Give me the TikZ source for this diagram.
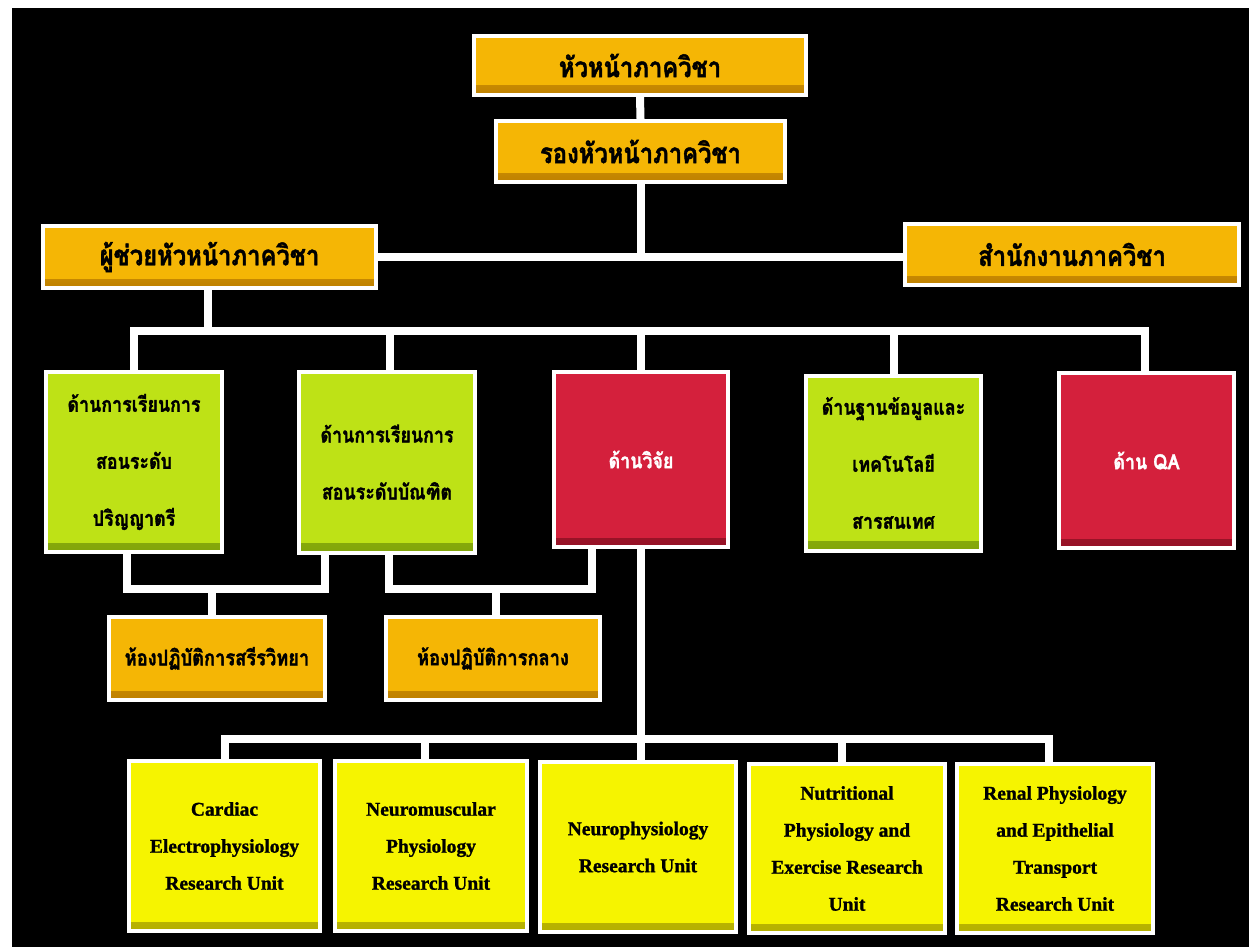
\documentclass[tikz,border=0pt]{standalone}
\usepackage{fontspec}
\setmainfont{Liberation Serif}[BoldFeatures={FakeBold=1.2}]
\newfontfamily\thai[Script=Thai,FakeStretch=0.85,BoldFeatures={FakeBold=1.5}]{Loma}
\usetikzlibrary{calc}
\definecolor{orgA}{RGB}{245,182,5}
\definecolor{orgB}{RGB}{190,128,0}
\definecolor{grnA}{RGB}{190,226,22}
\definecolor{grnB}{RGB}{130,165,10}
\definecolor{redA}{RGB}{212,32,60}
\definecolor{redB}{RGB}{150,18,38}
\definecolor{yelA}{RGB}{246,244,0}
\definecolor{yelB}{RGB}{180,175,0}
\tikzset{
  x=1pt, y=-1pt,
  boxbase/.style 2 args={draw=white, line width=4pt, inner sep=2pt, align=center,
    fill=#1,
    path picture={\shade[top color=#1, bottom color=#2]
      (path picture bounding box.south west) rectangle ([yshift=9pt]path picture bounding box.south east);}},
  obox/.style={boxbase={orgA}{orgB}, font=\thai\bfseries\fontsize{28}{32}\selectfont},
  labbox/.style={boxbase={orgA}{orgB}, font=\thai\bfseries\fontsize{21.5}{24}\selectfont},
  gbox/.style={boxbase={grnA}{grnB}, font=\thai\bfseries\fontsize{21}{57}\selectfont},
  rbox/.style={boxbase={redA}{redB}, text=white, font=\thai\bfseries\fontsize{21}{57}\selectfont},
  ybox/.style={boxbase={yelA}{yelB}, font=\bfseries\fontsize{19.5}{37}\selectfont},
  conn/.style={draw=white, line width=8pt, line join=miter},
}
\begin{document}
\begin{tikzpicture}
\useasboundingbox (0,0) rectangle (1249,947);
\fill[white] (0,0) rectangle (1249,947);
\fill[black] (12,8) rectangle (1249,947);

\node[obox, minimum width=332, minimum height=59] (head) at (640,65.5) {หัวหน้าภาควิชา};
\node[obox, minimum width=289, minimum height=61] (deputy) at (640.5,151.5) {รองหัวหน้าภาควิชา};
\node[obox, minimum width=333, minimum height=62] (assist) at (209.5,257) {ผู้ช่วยหัวหน้าภาควิชา};
\node[obox, minimum width=334, minimum height=61] (office) at (1072,254.5) {สำนักงานภาควิชา};

\node[gbox, minimum width=176, minimum height=180] (g1) at (134,462) {ด้านการเรียนการ\\สอนระดับ\\ปริญญาตรี};
\node[gbox, minimum width=176, minimum height=181] (g2) at (387,462) {ด้านการเรียนการ\\สอนระดับบัณฑิต};
\node[rbox, minimum width=174, minimum height=175] (r1) at (641,459.5) {ด้านวิจัย};
\node[gbox, minimum width=175, minimum height=175] (g3) at (893.5,463) {ด้านฐานข้อมูลและ\\เทคโนโลยี\\สารสนเทศ};
\node[rbox, minimum width=175, minimum height=175] (r2) at (1146.5,460.5) {ด้าน QA};

\node[labbox, minimum width=216, minimum height=83] (lab1) at (217,658.5) {ห้องปฏิบัติการสรีรวิทยา};
\node[labbox, minimum width=214, minimum height=83] (lab2) at (493,658.5) {ห้องปฏิบัติการกลาง};

\node[ybox, minimum width=191, minimum height=170] (y1) at (224.5,846) {Cardiac\\Electrophysiology\\Research Unit};
\node[ybox, minimum width=192, minimum height=170] (y2) at (431,846) {Neuromuscular\\Physiology\\Research Unit};
\node[ybox, minimum width=196, minimum height=170] (y3) at (638,847) {Neurophysiology\\Research Unit};
\node[ybox, minimum width=196, minimum height=169] (y4) at (847,848.5) {Nutritional\\Physiology and\\Exercise Research\\Unit};
\node[ybox, minimum width=196, minimum height=169] (y5) at (1055,848.5) {Renal Physiology\\and Epithelial\\Transport\\Research Unit};

\coordinate (bar1) at (641,331);
\coordinate (b1) at (212,589);
\coordinate (b2) at (496,589);
\coordinate (bar3) at (642,739);

\draw[conn] (head.south) -- (deputy.north);
\draw[conn] (deputy.south) -- (deputy.south |- assist.east);
\draw[conn] (assist.east) -- (assist.east -| office.west);
\draw[conn] ([xshift=-2pt]assist.south) -- ([xshift=-2pt]assist.south |- bar1);
\draw[conn] (g1.north) |- (bar1) -| ([xshift=-2pt]r2.north);
\draw[conn] ([xshift=3pt]g2.north) -- ([xshift=3pt]g2.north |- bar1);
\draw[conn] (r1.north) -- (r1.north |- bar1);
\draw[conn] (g3.north) -- (g3.north |- bar1);
\draw[conn] ([xshift=-7pt]g1.south) |- (b1) -| ([xshift=-62pt]g2.south);
\draw[conn] (b1) -- (b1 |- lab1.north);
\draw[conn] ([xshift=2pt]g2.south) |- (b2) -| ([xshift=-49pt]r1.south);
\draw[conn] (b2) -- (b2 |- lab2.north);
\draw[conn] (r1.south) -- (r1.south |- y3.north);
\draw[conn] (y1.north) |- (bar3) -| ([xshift=-6pt]y5.north);
\draw[conn] ([xshift=-6pt]y2.north) -- ([xshift=-6pt]y2.north |- bar3);
\draw[conn] ([xshift=-5pt]y4.north) -- ([xshift=-5pt]y4.north |- bar3);
\end{tikzpicture}
\end{document}
